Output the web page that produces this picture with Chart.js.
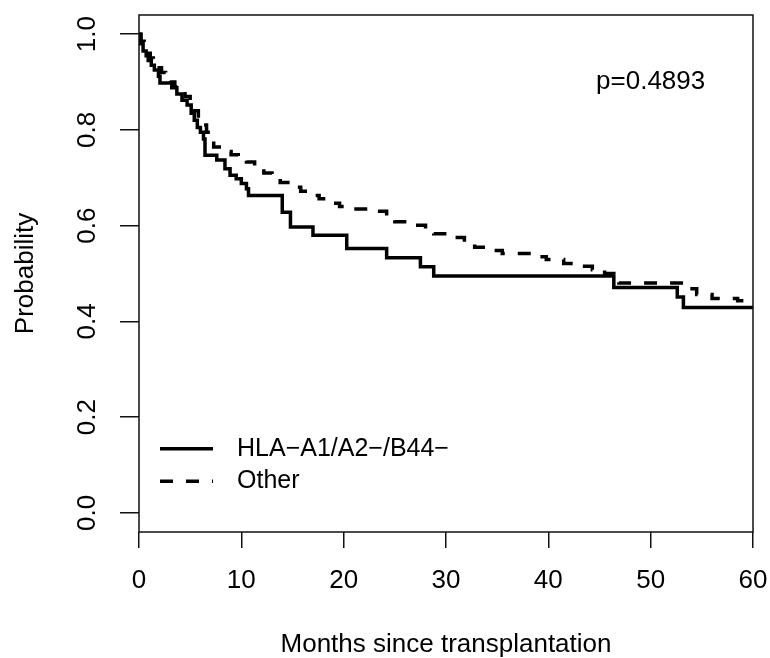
<!DOCTYPE html>
<html>
<head>
<meta charset="utf-8">
<script src="https://cdn.jsdelivr.net/npm/chart.js@4"></script>
<style>
  html, body { margin: 0; padding: 0; background: #fff; }
  #wrap { width: 770px; height: 658px; }
</style>
</head>
<body>
<div id="wrap"><canvas id="km" width="770" height="658"></canvas></div>
<script>
// Kaplan-Meier steps (month of drop, survival after drop)
const hlaMonths = [0, 0.15, 0.4, 0.7, 0.9, 1.2, 1.5, 1.9, 2.05, 3.2, 3.7, 4.2, 4.7, 5.1, 5.4, 5.7, 6.0, 6.3, 6.45,
  7.6, 8.4, 8.9, 9.5, 10.0, 10.5, 10.7, 14.0, 14.8, 17.0, 20.3, 24.2, 27.5, 28.8, 46.4, 52.6, 53.2, 60]
const hlaSurv = [1.0, 0.98, 0.965, 0.955, 0.945, 0.935, 0.925, 0.912, 0.898, 0.888, 0.875, 0.862, 0.852, 0.835, 0.82, 0.805, 0.795, 0.781, 0.747,
  0.737, 0.719, 0.705, 0.698, 0.688, 0.677, 0.663, 0.628, 0.597, 0.580, 0.552, 0.533, 0.514, 0.495, 0.471, 0.451, 0.429, 0.429]

const otherMonths = [0, 0.2, 0.5, 0.8, 1.1, 1.4, 1.8, 2.2, 2.6, 3.0, 3.5, 4.0, 4.5, 5.0, 5.4, 5.8, 6.2, 6.6, 7.0, 7.3,
  8.2, 9.0, 9.7, 10.5, 11.3, 12.2, 13.0, 13.8, 14.8, 15.8, 16.6, 17.6, 18.7, 19.6, 20.6, 22.5, 24.2, 25.0, 26.5, 28.0,
  28.8, 30.2, 31.8, 32.8, 34.0, 35.5, 38.8, 39.8, 41.5, 43.2, 44.3, 45.5, 46.4, 46.9, 53.4, 54.5, 56.0, 58.5, 60]
const otherSurv = [1.0, 0.985, 0.97, 0.96, 0.95, 0.94, 0.93, 0.92, 0.91, 0.90, 0.89, 0.88, 0.87, 0.855, 0.84, 0.825, 0.81, 0.795, 0.782, 0.764,
  0.755, 0.748, 0.743, 0.733, 0.722, 0.71, 0.698, 0.69, 0.68, 0.672, 0.663, 0.656, 0.647, 0.64, 0.635, 0.630, 0.620, 0.608, 0.601, 0.592,
  0.583, 0.575, 0.565, 0.555, 0.548, 0.542, 0.535, 0.529, 0.521, 0.515, 0.508, 0.500, 0.488, 0.480, 0.468, 0.456, 0.448, 0.443, 0.443]

const seriesNames = ['HLA\u2212A1/A2\u2212/B44\u2212', 'Other']
const xTicks = [0, 10, 20, 30, 40, 50, 60]
const yTicks = [0, 0.2, 0.4, 0.6, 0.8, 1.0]
const pValueText = 'p=0.4893'

const FONT = '"Liberation Sans", Arial, sans-serif'

const toPoints = (months, surv) => months.map((m, i) => ({ x: m, y: surv[i] }))

// the axes would otherwise reserve room for half a label at each end
const noEdgePadding = (s) => {
    s.paddingLeft = 0
    s.paddingRight = 0
    s.paddingTop = 0
    s.paddingBottom = 0
}

// box around the plot, p value and the legend in the bottom left corner
const extras = {
    id: 'extras',
    afterDatasetsDraw(chart) {
        const { ctx, chartArea: a, scales: { x, y } } = chart
        ctx.save()
        ctx.strokeStyle = '#111'
        ctx.lineWidth = 1.5
        ctx.strokeRect(a.left, a.top, a.right - a.left, a.bottom - a.top)

        ctx.fillStyle = '#000'
        ctx.font = '26px ' + FONT
        ctx.textAlign = 'center'
        ctx.textBaseline = 'middle'
        ctx.fillText(pValueText, x.getPixelForValue(50), y.getPixelForValue(0.9))

        ctx.font = '25px ' + FONT
        ctx.textAlign = 'left'
        chart.data.datasets.forEach((ds, i) => {
            const yy = y.getPixelForValue(0.134 - i * 0.068)
            ctx.strokeStyle = ds.borderColor
            ctx.lineWidth = ds.borderWidth
            ctx.setLineDash(ds.borderDash || [])
            ctx.beginPath()
            ctx.moveTo(a.left + 21, yy)
            ctx.lineTo(a.left + 74, yy)
            ctx.stroke()
            ctx.fillText(ds.label, a.left + 98, yy)
        })
        ctx.restore()
    }
}

const data = {
    datasets: [{
        label: seriesNames[0],
        data: toPoints(hlaMonths, hlaSurv),
        borderColor: '#000',
        borderWidth: 3.5,
        stepped: 'before',
        pointRadius: 0,
        fill: false
    }, {
        label: seriesNames[1],
        data: toPoints(otherMonths, otherSurv),
        borderColor: '#000',
        borderWidth: 3.5,
        borderDash: [13, 13],
        stepped: 'before',
        pointRadius: 0,
        fill: false
    }]
}

const config = {
    type: 'line',
    data: data,
    options: {
        responsive: false,
        animation: false,
        devicePixelRatio: 1,
        layout: { padding: { left: 0, right: 17, top: 15, bottom: 0 } },
        plugins: { legend: { display: false }, tooltip: { enabled: false } },
        scales: {
            x: {
                type: 'linear',
                min: 0,
                max: 60,
                afterBuildTicks: (s) => { s.ticks = xTicks.map((v) => ({ value: v })) },
                afterFit: (s) => { s.height = 126; noEdgePadding(s) },
                border: { display: false },
                grid: { drawOnChartArea: false, drawTicks: true, tickLength: 16, color: '#111', lineWidth: 1.5 },
                ticks: { color: '#000', font: { family: FONT, size: 26, lineHeight: 1 }, padding: 20, maxRotation: 0, autoSkip: false },
                title: { display: true, text: 'Months since transplantation', color: '#000', font: { family: FONT, size: 26 }, padding: { top: 0, bottom: -2 } }
            },
            y: {
                type: 'linear',
                min: -0.04,
                max: 1.04,
                afterBuildTicks: (s) => { s.ticks = yTicks.map((v) => ({ value: v })) },
                afterFit: (s) => { s.width = 139; noEdgePadding(s) },
                border: { display: false },
                grid: { drawOnChartArea: false, drawTicks: true, tickLength: 19, color: '#111', lineWidth: 1.5 },
                ticks: {
                    color: '#000', font: { family: FONT, size: 26, lineHeight: 1 }, padding: 14,
                    minRotation: 90, maxRotation: 90, crossAlign: 'center', autoSkip: false,
                    callback: (v) => Number(v).toFixed(1)
                },
                title: { display: true, text: 'Probability', color: '#000', font: { family: FONT, size: 26 }, padding: { top: 10, bottom: 0 } }
            }
        }
    },
    plugins: [extras]
}

const ctx = document.getElementById('km')
new Chart(ctx, config)
</script>
</body>
</html>
